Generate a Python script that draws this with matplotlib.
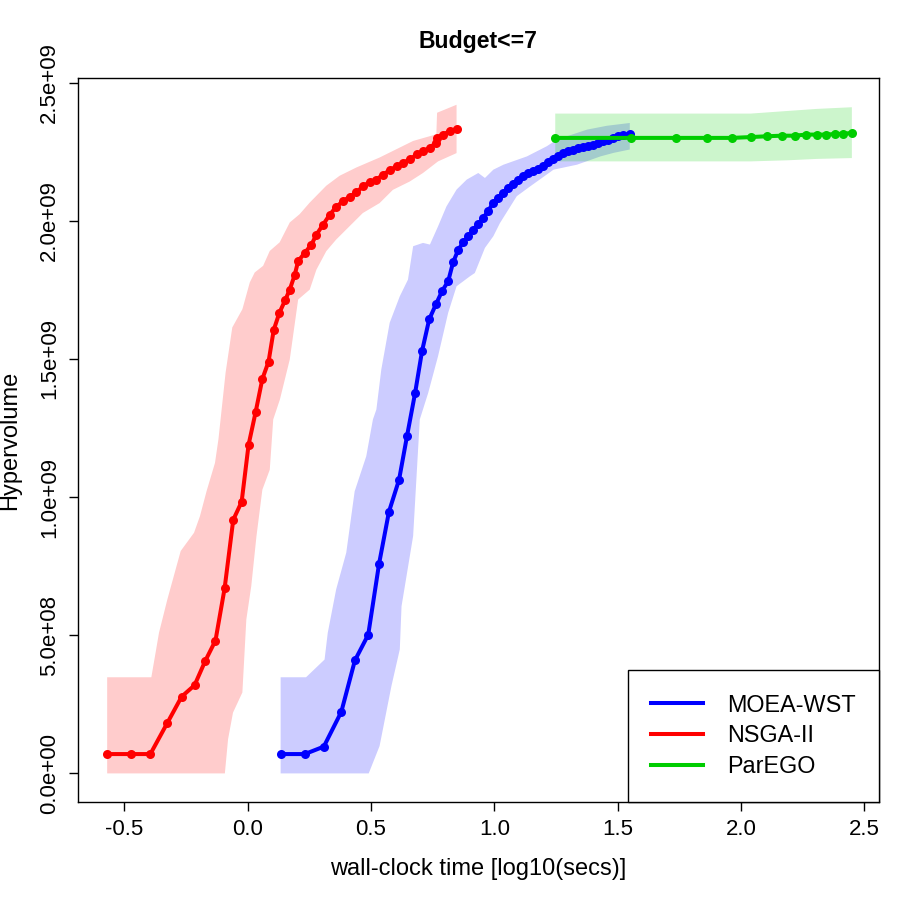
import numpy as np
import matplotlib
matplotlib.use("Agg")
import matplotlib.pyplot as plt
from matplotlib.lines import Line2D

plt.rcParams['font.family'] = ['Liberation Sans', 'DejaVu Sans']

# ---------------- data (x: log10 seconds, y: hypervolume in 1e9) ----------------
nsga_x = [-0.569, -0.471, -0.394, -0.325, -0.267, -0.215, -0.171, -0.130, -0.093, -0.058,
          -0.024, 0.004, 0.033, 0.060, 0.085, 0.106, 0.129, 0.152, 0.171, 0.191,
          0.205, 0.232, 0.259, 0.279, 0.306, 0.333, 0.360, 0.387, 0.414, 0.441,
          0.468, 0.495, 0.522, 0.549, 0.576, 0.604, 0.630, 0.658, 0.685, 0.711,
          0.739, 0.762, 0.766, 0.792, 0.819, 0.847]
nsga_y = [0.070, 0.070, 0.070, 0.183, 0.278, 0.319, 0.408, 0.481, 0.670, 0.918,
          0.983, 1.189, 1.309, 1.428, 1.490, 1.605, 1.667, 1.712, 1.751, 1.804,
          1.854, 1.884, 1.914, 1.950, 1.986, 2.022, 2.051, 2.071, 2.087, 2.103,
          2.125, 2.140, 2.149, 2.167, 2.183, 2.197, 2.210, 2.222, 2.240, 2.252,
          2.264, 2.282, 2.300, 2.312, 2.324, 2.333]
nsga_up_x = [-0.569, -0.390, -0.373, -0.359, -0.325, -0.271, -0.217, -0.193, -0.166, -0.132,
             -0.118, -0.102, -0.089, -0.062, -0.021, 0.009, 0.029, 0.063, 0.090, 0.130,
             0.171, 0.211, 0.252, 0.319, 0.373, 0.441, 0.535, 0.603, 0.671, 0.765, 0.768, 0.847]
nsga_up_y = [0.348, 0.348, 0.436, 0.509, 0.630, 0.805, 0.871, 0.931, 1.022, 1.124,
             1.210, 1.343, 1.451, 1.614, 1.680, 1.777, 1.813, 1.837, 1.891, 1.922,
             1.994, 2.024, 2.066, 2.127, 2.163, 2.193, 2.229, 2.259, 2.289, 2.313, 2.391, 2.420]
nsga_lo_x = [-0.569, -0.092, -0.079, -0.059, -0.021, -0.005, 0.015, 0.036, 0.060, 0.090,
             0.104, 0.131, 0.171, 0.205, 0.252, 0.279, 0.319, 0.359, 0.413, 0.467,
             0.535, 0.589, 0.657, 0.711, 0.772, 0.847]
nsga_lo_y = [0.000, 0.000, 0.124, 0.220, 0.293, 0.557, 0.678, 0.858, 1.027, 1.099,
             1.281, 1.353, 1.498, 1.715, 1.751, 1.823, 1.890, 1.932, 1.980, 2.028,
             2.064, 2.112, 2.142, 2.173, 2.215, 2.245]

moea_x = [0.134, 0.232, 0.309, 0.380, 0.435, 0.489, 0.533, 0.573, 0.614, 0.646,
          0.679, 0.707, 0.736, 0.764, 0.789, 0.813, 0.833, 0.853, 0.874, 0.894,
          0.914, 0.934, 0.955, 0.975, 0.995, 1.015, 1.036, 1.056, 1.076, 1.097,
          1.117, 1.137, 1.157, 1.178, 1.198, 1.218, 1.238, 1.259, 1.279, 1.299,
          1.319, 1.340, 1.360, 1.380, 1.400, 1.421, 1.441, 1.461, 1.482, 1.502,
          1.522, 1.549]
moea_y = [0.070, 0.070, 0.097, 0.223, 0.409, 0.502, 0.759, 0.947, 1.063, 1.220,
          1.377, 1.528, 1.643, 1.699, 1.747, 1.781, 1.850, 1.893, 1.923, 1.944,
          1.968, 1.987, 2.011, 2.035, 2.065, 2.083, 2.101, 2.119, 2.134, 2.149,
          2.161, 2.174, 2.182, 2.189, 2.200, 2.212, 2.224, 2.236, 2.246, 2.252,
          2.258, 2.263, 2.268, 2.272, 2.276, 2.282, 2.288, 2.294, 2.300, 2.306,
          2.309, 2.315]
moea_up_x = [0.134, 0.237, 0.312, 0.325, 0.359, 0.400, 0.434, 0.481, 0.508, 0.522,
             0.542, 0.576, 0.617, 0.650, 0.671, 0.711, 0.739, 0.772, 0.806, 0.847,
             0.888, 0.935, 0.962, 0.996, 1.037, 1.132, 1.213, 1.254, 1.376, 1.457, 1.549]
moea_up_y = [0.348, 0.348, 0.412, 0.509, 0.666, 0.799, 1.021, 1.148, 1.281, 1.317,
             1.462, 1.631, 1.727, 1.787, 1.908, 1.920, 1.914, 1.980, 2.052, 2.113,
             2.149, 2.173, 2.155, 2.185, 2.203, 2.233, 2.270, 2.294, 2.330, 2.344, 2.354]
moea_lo_x = [0.134, 0.491, 0.535, 0.583, 0.617, 0.624, 0.671, 0.698, 0.732, 0.772,
             0.813, 0.847, 0.901, 0.921, 0.962, 0.996, 1.023, 1.091, 1.146, 1.240,
             1.335, 1.430, 1.484, 1.549]
moea_lo_y = [0.000, 0.000, 0.099, 0.316, 0.449, 0.605, 0.859, 1.281, 1.377, 1.510,
             1.667, 1.763, 1.799, 1.811, 1.902, 1.944, 1.992, 2.089, 2.125, 2.185,
             2.203, 2.233, 2.246, 2.258]

parego_x = [1.247, 1.552, 1.735, 1.862, 1.963, 2.039, 2.106, 2.165, 2.218, 2.263,
            2.308, 2.344, 2.381, 2.415, 2.449]
parego_y = [2.300, 2.300, 2.300, 2.300, 2.300, 2.303, 2.306, 2.308, 2.308, 2.312,
            2.312, 2.312, 2.314, 2.315, 2.318]
parego_up_x = [1.247, 2.039, 2.165, 2.308, 2.449]
parego_up_y = [2.388, 2.388, 2.396, 2.405, 2.411]
parego_lo_x = [1.247, 2.039, 2.190, 2.308, 2.449]
parego_lo_y = [2.215, 2.215, 2.219, 2.224, 2.227]

series_names = ["MOEA-WST", "NSGA-II", "ParEGO"]
series_colors = ["#0000FF", "#FF0000", "#00CD00"]

x_ticks = [-0.5, 0.0, 0.5, 1.0, 1.5, 2.0, 2.5]
x_tick_labels = ["-0.5", "0.0", "0.5", "1.0", "1.5", "2.0", "2.5"]
y_ticks = [0.0, 0.5, 1.0, 1.5, 2.0, 2.5]
y_tick_labels = ["0.0e+00", "5.0e+08", "1.0e+09", "1.5e+09", "2.0e+09", "2.5e+09"]

title = "Budget<=7"
xlabel = "wall-clock time [log10(secs)]"
ylabel = "Hypervolume"

# ---------------- figure ----------------
W, H = 920, 900
fig = plt.figure(figsize=(W / 100, H / 100), dpi=100)
L, R, T, B = 78.3, 879.0, 78.3, 801.7
ax = fig.add_axes([L / W, 1 - B / H, (R - L) / W, (B - T) / H])

def band(ux, uy, lx, ly, color):
    px = np.concatenate([np.asarray(ux), np.asarray(lx)[::-1]])
    py = np.concatenate([np.asarray(uy), np.asarray(ly)[::-1]])
    ax.fill(px, py, color=color, alpha=0.2, lw=0, zorder=1)

band(nsga_up_x, nsga_up_y, nsga_lo_x, nsga_lo_y, series_colors[1])
band(moea_up_x, moea_up_y, moea_lo_x, moea_lo_y, series_colors[0])
band(parego_up_x, parego_up_y, parego_lo_x, parego_lo_y, series_colors[2])

lw = 2.9
ms = 6.5
ax.plot(moea_x, moea_y, '-o', color=series_colors[0], lw=lw, ms=ms, mew=0, zorder=3)
ax.plot(nsga_x, nsga_y, '-o', color=series_colors[1], lw=lw, ms=ms, mew=0, zorder=3)
ax.plot(parego_x, parego_y, '-o', color=series_colors[2], lw=lw, ms=ms, mew=0, zorder=4)

ax.set_xlim(-0.686, 2.559)
ax.set_ylim(-0.1024, 2.5157)

ax.set_xticks(x_ticks)
ax.set_xticklabels(x_tick_labels)
ax.set_yticks(y_ticks)
ax.set_yticklabels(y_tick_labels, rotation=90, va='center')

for s in ax.spines.values():
    s.set_linewidth(1.0)
    s.set_color('black')
ax.tick_params(axis='both', length=6.5, width=1.0, labelsize=16, color='black')
ax.tick_params(axis='x', pad=6.3)
ax.tick_params(axis='y', pad=6.5)

ax.text(0.4995, 1.0419, title, transform=ax.transAxes, ha='center', va='baseline',
        fontsize=16.6, fontweight='bold')
ax.text(0.4996, -0.1013, xlabel, transform=ax.transAxes, ha='center', va='baseline',
        fontsize=17)
ax.text((10 - L) / (R - L), 0.5, ylabel, transform=ax.transAxes, ha='center', va='center',
        rotation=90, fontsize=17)

handles = [Line2D([], [], color=c, lw=lw) for c in series_colors]
leg = ax.legend(handles, series_names, loc='lower right', bbox_to_anchor=(1.0, 0.0),
                borderaxespad=0.0, fontsize=16.8, frameon=True, fancybox=False,
                edgecolor='black', framealpha=1.0, handlelength=2.23, handletextpad=1.03,
                borderpad=1.0, labelspacing=0.34)
leg.get_frame().set_linewidth(1.0)

fig.savefig("out.png", dpi=100, facecolor='white')
